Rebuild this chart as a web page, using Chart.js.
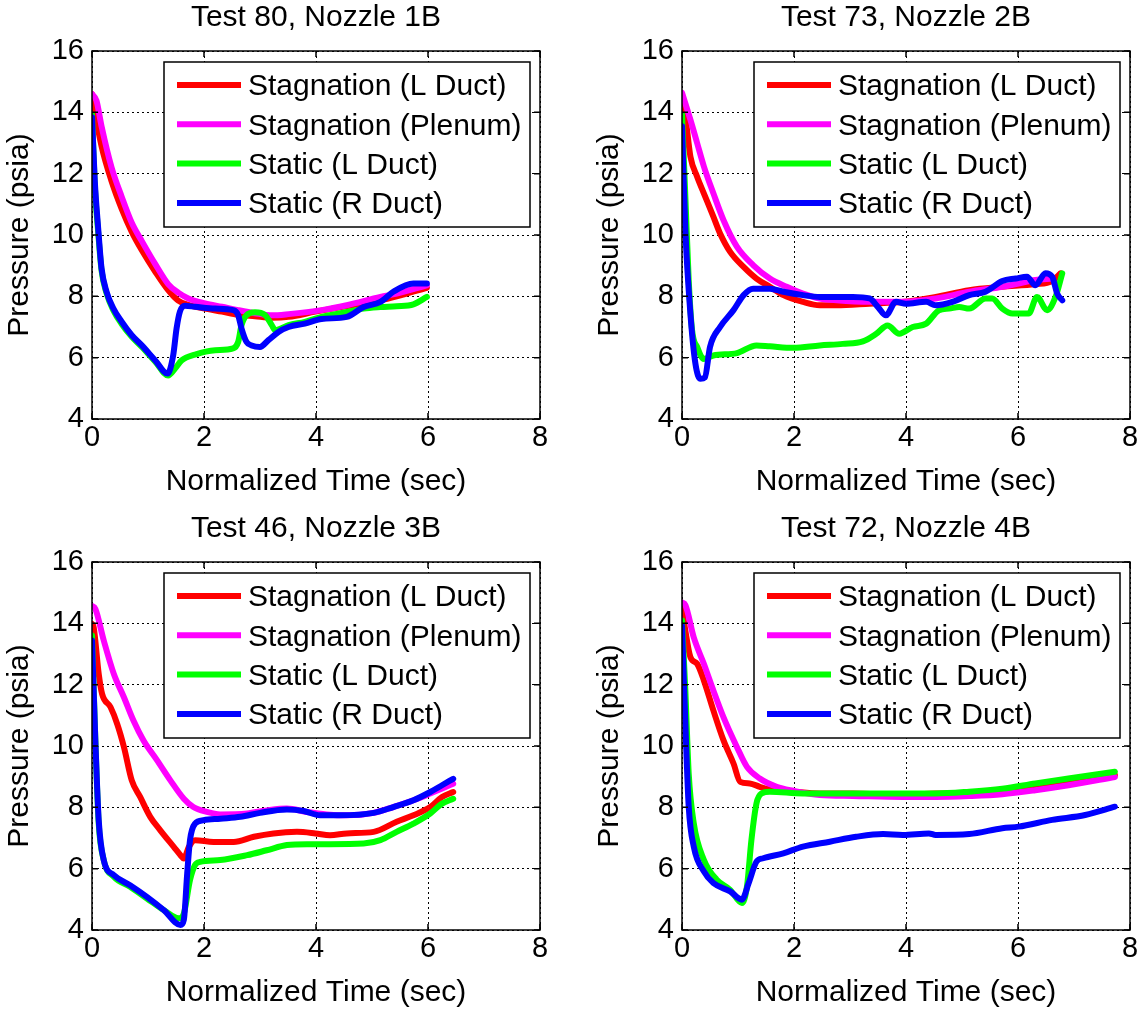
<!DOCTYPE html>
<html>
<head>
<meta charset="utf-8">
<title>Pressure traces, nozzles 1B-4B</title>
<script src="https://cdn.jsdelivr.net/npm/chart.js@4.4.1/dist/chart.umd.min.js"></script>
<style>
  html, body { margin: 0; padding: 0; background: #fff; }
  body { width: 1147px; height: 1009px; overflow: hidden; position: relative; }
  .panel { position: absolute; width: 590px; height: 511px; }
</style>
</head>
<body>
<div class="panel" style="left:0px;top:0px"><canvas id="chart-80" width="590" height="511"></canvas></div>
<div class="panel" style="left:590px;top:0px"><canvas id="chart-73" width="590" height="511"></canvas></div>
<div class="panel" style="left:0px;top:511px"><canvas id="chart-46" width="590" height="511"></canvas></div>
<div class="panel" style="left:590px;top:511px"><canvas id="chart-72" width="590" height="511"></canvas></div>
<script>
// Labels and axes (shared by the four panels)
const seriesLabels = ['Stagnation (L Duct)', 'Stagnation (Plenum)', 'Static (L Duct)', 'Static (R Duct)'];
const seriesColors = ['#ff0000', '#ff00ff', '#00ff00', '#0000ff'];
const xTicks = [0, 2, 4, 6, 8];
const yTicks = [4, 6, 8, 10, 12, 14, 16];
const xLabel = 'Normalized Time (sec)';
const yLabel = 'Pressure (psia)';

// Test 80, Nozzle 1B  -- [time, psia]
const t80StagL = [[0,14.6],[0.05,14.05],[0.17,12.9],[0.35,11.75],[0.53,10.85],[0.71,10.1],[0.89,9.5],[1.13,8.8],[1.36,8.2],[1.54,7.86],[1.72,7.72],[2.02,7.6],[2.32,7.5],[2.61,7.4],[2.91,7.35],[3.21,7.3],[3.51,7.33],[3.99,7.5],[4.55,7.68],[5.15,7.87],[5.44,8.0],[5.98,8.28]];
const t80StagP = [[0,14.6],[0.08,14.38],[0.17,13.55],[0.35,12.2],[0.53,11.25],[0.71,10.4],[0.89,9.8],[1.13,9.05],[1.36,8.4],[1.54,8.12],[1.72,7.93],[2.02,7.77],[2.32,7.66],[2.61,7.55],[2.91,7.45],[3.21,7.38],[3.51,7.42],[4.10,7.55],[4.55,7.71],[5.15,7.98],[5.44,8.09],[5.98,8.36]];
const t80StatL = [[0,13.93],[0.05,11.6],[0.11,10.1],[0.17,8.85],[0.26,8.1],[0.38,7.55],[0.53,7.1],[0.71,6.68],[0.89,6.35],[1.13,5.87],[1.36,5.42],[1.48,5.64],[1.60,5.91],[1.84,6.1],[2.2,6.24],[2.52,6.3],[2.61,6.51],[2.67,7.06],[2.76,7.39],[2.91,7.48],[3.09,7.39],[3.21,7.06],[3.27,6.9],[3.51,7.06],[3.8,7.17],[4.1,7.33],[4.55,7.49],[4.85,7.6],[5.15,7.65],[5.44,7.68],[5.74,7.74],[5.98,7.98]];
const t80StatR = [[0,13.84],[0.05,11.76],[0.11,10.23],[0.17,8.92],[0.26,8.15],[0.38,7.61],[0.53,7.17],[0.71,6.73],[0.89,6.4],[1.13,5.91],[1.35,5.48],[1.45,6.08],[1.51,6.95],[1.57,7.5],[1.66,7.69],[1.84,7.66],[2.2,7.6],[2.52,7.55],[2.61,7.39],[2.67,6.95],[2.76,6.51],[2.85,6.4],[3.0,6.35],[3.15,6.57],[3.33,6.84],[3.51,7.0],[3.8,7.11],[4.1,7.26],[4.55,7.33],[4.85,7.65],[5.15,7.82],[5.38,8.15],[5.74,8.42],[5.98,8.42]];

// Test 73, Nozzle 2B
const t73StagL = [[0,14.47],[0.06,13.87],[0.15,12.56],[0.27,11.9],[0.39,11.36],[0.56,10.6],[0.68,10.05],[0.86,9.45],[1.10,8.96],[1.33,8.58],[1.57,8.31],[1.81,8.04],[2.16,7.82],[2.46,7.71],[2.76,7.71],[3.35,7.76],[3.97,7.82],[4.53,7.98],[5.13,8.2],[5.72,8.31],[6.31,8.4],[6.61,8.5],[6.76,8.75]];
const t73StagP = [[0,14.64],[0.15,13.76],[0.27,13.0],[0.39,12.24],[0.56,11.36],[0.74,10.49],[0.98,9.62],[1.27,9.02],[1.57,8.58],[1.87,8.31],[2.16,8.09],[2.46,7.93],[2.76,7.87],[3.35,7.82],[3.93,7.82],[4.53,7.93],[5.13,8.15],[5.72,8.31],[6.01,8.42],[6.31,8.53],[6.61,8.58]];
const t73StatL = [[0,13.93],[0.06,11.25],[0.12,8.53],[0.18,6.9],[0.27,6.35],[0.39,5.96],[0.56,6.07],[0.98,6.15],[1.33,6.4],[1.57,6.37],[1.99,6.32],[2.46,6.4],[2.87,6.45],[3.23,6.53],[3.47,6.78],[3.67,7.05],[3.88,6.78],[4.12,7.0],[4.36,7.11],[4.59,7.55],[4.77,7.6],[4.95,7.65],[5.13,7.6],[5.42,7.93],[5.54,7.93],[5.72,7.6],[5.90,7.44],[6.19,7.44],[6.34,7.98],[6.52,7.55],[6.67,7.98],[6.79,8.75]];
const t73StatR = [[0,13.55],[0.06,10.16],[0.15,7.44],[0.24,5.8],[0.33,5.31],[0.41,5.36],[0.50,6.35],[0.68,7.0],[0.92,7.55],[1.10,8.04],[1.27,8.25],[1.57,8.25],[1.81,8.15],[2.16,8.04],[2.46,7.98],[3.05,7.98],[3.35,7.93],[3.50,7.65],[3.64,7.38],[3.82,7.82],[4.0,7.76],[4.36,7.82],[4.53,7.71],[4.83,7.82],[5.13,8.04],[5.42,8.15],[5.72,8.5],[5.96,8.58],[6.16,8.64],[6.31,8.36],[6.49,8.75],[6.61,8.64],[6.70,8.09],[6.79,7.87]];

// Test 46, Nozzle 3B
const t46StagL = [[0,13.98],[0.03,13.87],[0.12,12.35],[0.18,11.7],[0.33,11.27],[0.45,10.72],[0.57,9.97],[0.71,8.88],[0.86,8.34],[1.04,7.69],[1.22,7.25],[1.46,6.71],[1.58,6.44],[1.64,6.33],[1.73,6.71],[1.84,6.93],[2.17,6.87],[2.53,6.87],[2.89,7.04],[3.24,7.15],[3.66,7.2],[3.99,7.15],[4.25,7.09],[4.55,7.15],[5.03,7.2],[5.44,7.53],[5.74,7.74],[6.04,8.01],[6.25,8.34],[6.45,8.5]];
const t46StagP = [[0,14.57],[0.06,14.47],[0.21,13.44],[0.39,12.35],[0.57,11.59],[0.74,10.83],[0.92,10.18],[1.16,9.54],[1.40,8.88],[1.64,8.28],[1.81,8.01],[2.05,7.85],[2.29,7.77],[2.77,7.8],[3.12,7.9],[3.48,7.96],[3.84,7.85],[4.19,7.77],[4.55,7.74],[5.03,7.82],[5.38,8.01],[5.74,8.23],[6.04,8.45],[6.45,8.77]];
const t46StatL = [[0,13.6],[0.06,10.18],[0.12,7.47],[0.21,6.28],[0.39,5.74],[0.68,5.41],[0.98,5.03],[1.28,4.65],[1.55,4.38],[1.64,4.54],[1.75,5.63],[1.84,6.12],[1.93,6.22],[2.29,6.28],[2.77,6.44],[3.12,6.6],[3.48,6.77],[3.84,6.8],[4.25,6.8],[4.85,6.82],[5.15,6.93],[5.44,7.2],[5.74,7.47],[6.04,7.8],[6.25,8.12],[6.45,8.28]];
const t46StatR = [[0,13.44],[0.06,10.18],[0.12,7.58],[0.21,6.28],[0.39,5.79],[0.68,5.46],[0.98,5.08],[1.28,4.65],[1.58,4.16],[1.64,4.33],[1.70,5.84],[1.75,6.93],[1.84,7.47],[1.99,7.58],[2.29,7.63],[2.65,7.69],[3.0,7.82],[3.48,7.93],[3.78,7.88],[4.07,7.74],[4.43,7.74],[5.03,7.82],[5.38,8.01],[5.74,8.23],[6.04,8.5],[6.25,8.72],[6.45,8.93]];

// Test 72, Nozzle 4B
const t72StagL = [[0,14.52],[0.06,13.76],[0.15,12.9],[0.27,12.68],[0.39,12.14],[0.56,11.16],[0.74,10.19],[0.92,9.43],[1.04,8.83],[1.21,8.78],[1.39,8.67],[1.57,8.58],[1.99,8.51],[2.46,8.45],[3.05,8.45],[3.94,8.4],[4.53,8.45],[5.13,8.45],[5.72,8.56],[6.31,8.72],[6.90,8.89],[7.73,9.05]];
const t72StagP = [[0,14.68],[0.06,14.6],[0.21,13.54],[0.39,12.68],[0.56,11.81],[0.74,10.94],[0.98,9.97],[1.16,9.32],[1.39,8.94],[1.69,8.67],[1.99,8.54],[2.46,8.4],[3.05,8.37],[3.94,8.34],[4.53,8.34],[5.13,8.37],[5.72,8.43],[6.31,8.56],[6.90,8.72],[7.73,8.99]];
const t72StatL = [[0,14.09],[0.06,11.81],[0.12,9.1],[0.21,7.48],[0.39,6.29],[0.62,5.64],[0.86,5.31],[1.07,4.88],[1.16,5.42],[1.24,6.94],[1.33,8.13],[1.42,8.45],[1.57,8.51],[2.16,8.45],[3.35,8.45],[4.53,8.45],[5.13,8.51],[5.72,8.61],[6.31,8.78],[6.90,8.94],[7.73,9.16]];
const t72StatR = [[0,13.92],[0.06,10.73],[0.12,8.02],[0.21,6.72],[0.39,5.91],[0.56,5.53],[0.86,5.26],[1.07,4.99],[1.19,5.53],[1.33,6.23],[1.45,6.34],[1.81,6.5],[2.16,6.72],[2.64,6.88],[3.11,7.04],[3.59,7.13],[3.94,7.1],[4.41,7.15],[4.53,7.1],[5.13,7.13],[5.72,7.32],[6.01,7.37],[6.61,7.59],[7.20,7.75],[7.73,8.02]];

const FONT = "'Liberation Sans', Arial, sans-serif";

// frame box, inward tick marks and the legend, drawn over the lines
const matlabAxes = {
    id: 'matlabAxes',
    afterDatasetsDraw(chart) {
        const ctx = chart.ctx;
        const a = chart.chartArea;
        const xs = chart.scales.x, ys = chart.scales.y;
        ctx.save();
        ctx.strokeStyle = '#000';
        ctx.lineWidth = 1.5;
        ctx.setLineDash([]);
        ctx.strokeRect(a.left, a.top, a.right - a.left, a.bottom - a.top);
        ctx.beginPath();
        xTicks.forEach(v => {
            const px = xs.getPixelForValue(v);
            ctx.moveTo(px, a.bottom); ctx.lineTo(px, a.bottom - 6);
            ctx.moveTo(px, a.top); ctx.lineTo(px, a.top + 6);
        });
        yTicks.forEach(v => {
            const py = ys.getPixelForValue(v);
            ctx.moveTo(a.left, py); ctx.lineTo(a.left + 6, py);
            ctx.moveTo(a.right, py); ctx.lineTo(a.right - 6, py);
        });
        ctx.stroke();

        // legend box
        const boxW = 366, boxH = 165;
        const bx = a.right - 10 - boxW, by = a.top + 11;
        ctx.fillStyle = '#fff';
        ctx.fillRect(bx, by, boxW, boxH);
        ctx.strokeRect(bx, by, boxW, boxH);
        ctx.font = '30px ' + FONT;
        ctx.textBaseline = 'middle';
        ctx.textAlign = 'left';
        chart.data.datasets.forEach((ds, i) => {
            const ry = by + 23 + i * 39.3;
            ctx.strokeStyle = ds.borderColor;
            ctx.lineWidth = 6;
            ctx.beginPath();
            ctx.moveTo(bx + 13, ry);
            ctx.lineTo(bx + 77, ry);
            ctx.stroke();
            ctx.fillStyle = '#000';
            ctx.fillText(ds.label, bx + 84, ry + 2);
        });
        ctx.restore();
    }
};

function makeChart(canvasId, title, series) {
    const ctx = document.getElementById(canvasId).getContext('2d');
    return new Chart(ctx, {
        type: 'line',
        data: {
            datasets: series.map((pts, i) => ({
                label: seriesLabels[i],
                data: pts,
                borderColor: seriesColors[i],
                borderWidth: 6,
                pointRadius: 0,
                fill: false,
                cubicInterpolationMode: 'monotone',
                borderJoinStyle: 'round',
                borderCapStyle: 'round',
                order: series.length - i   // later series on top, as in the original
            }))
        },
        options: {
            responsive: false,
            animation: false,
            events: [],
            layout: { padding: { left: 0, right: 50, top: 0, bottom: 0 } },
            plugins: {
                legend: { display: false },
                tooltip: { enabled: false },
                title: {
                    display: true,
                    text: title,
                    fullSize: false,
                    color: '#000',
                    font: { family: FONT, size: 30, weight: 'normal' },
                    padding: { top: 0, bottom: 15 }
                }
            },
            scales: {
                x: {
                    type: 'linear',
                    min: xTicks[0],
                    max: xTicks[xTicks.length - 1],
                    ticks: { stepSize: xTicks[1] - xTicks[0], color: '#000', font: { family: FONT, size: 29 }, padding: 2, maxRotation: 0 },
                    grid: { color: '#000', lineWidth: 1, drawTicks: false },
                    border: { display: false, dash: [2, 3] },
                    title: { display: true, text: xLabel, color: '#000', font: { family: FONT, size: 30 }, padding: { top: 0, bottom: 11 } },
                    afterFit: (s) => { s.height = 92; }
                },
                y: {
                    type: 'linear',
                    min: yTicks[0],
                    max: yTicks[yTicks.length - 1],
                    ticks: { stepSize: yTicks[1] - yTicks[0], color: '#000', font: { family: FONT, size: 29 }, padding: 8 },
                    grid: { color: '#000', lineWidth: 1, drawTicks: false },
                    border: { display: false, dash: [2, 3] },
                    title: { display: true, text: yLabel, color: '#000', font: { family: FONT, size: 30 }, padding: { top: 2, bottom: 0 } },
                    afterFit: (s) => { s.width = 92; }
                }
            }
        },
        plugins: [matlabAxes]
    });
}

makeChart('chart-80', 'Test 80, Nozzle 1B', [t80StagL, t80StagP, t80StatL, t80StatR]);
makeChart('chart-73', 'Test 73, Nozzle 2B', [t73StagL, t73StagP, t73StatL, t73StatR]);
makeChart('chart-46', 'Test 46, Nozzle 3B', [t46StagL, t46StagP, t46StatL, t46StatR]);
makeChart('chart-72', 'Test 72, Nozzle 4B', [t72StagL, t72StagP, t72StatL, t72StatR]);
</script>
</body>
</html>
